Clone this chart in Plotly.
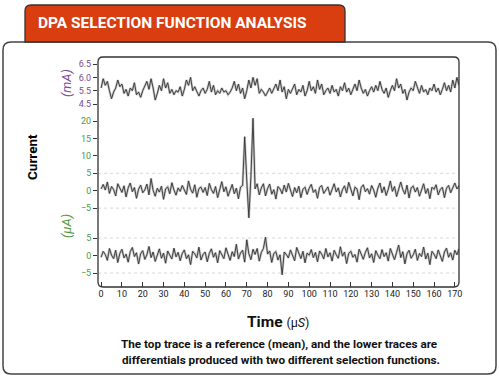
import plotly.graph_objects as go

# ---------------- data ----------------
time_us = list(range(0, 173))

ref_mean_mA = [
    5.6, 5.95, 5.7, 5.85, 5.5, 5.2, 5.45, 5.6, 5.9, 5.65,
    5.75, 5.4, 5.55, 5.3, 5.6, 5.5, 5.8, 5.35, 5.45, 5.25,
    5.5, 5.7, 5.85, 5.55, 5.95, 5.6, 5.15, 5.4, 5.7, 5.5,
    5.95, 5.6, 5.8, 5.4, 5.55, 5.35, 5.5, 5.45, 5.65, 5.3,
    5.55, 5.9, 5.7, 6.0, 5.5, 5.65, 5.45, 5.3, 5.5, 5.6,
    5.4, 5.55, 5.85, 5.45, 5.7, 5.35, 5.5, 5.4, 5.6, 5.45,
    5.5, 5.35, 5.45, 5.6, 5.85, 5.5, 5.75, 5.4, 5.6, 5.2,
    5.5, 5.9, 5.6, 6.0, 5.7, 5.95, 5.4, 5.55, 5.45, 5.3,
    5.45, 5.6, 5.4, 5.55, 5.75, 5.5, 5.9, 5.45, 5.65, 5.2,
    5.55, 5.4, 5.6, 5.75, 5.35, 5.55, 5.45, 5.7, 5.3, 5.5,
    5.85, 5.5, 5.65, 5.4, 5.9, 5.55, 5.75, 5.35, 5.5, 5.6,
    5.4, 5.7, 5.45, 5.55, 5.3, 5.65, 5.5, 5.8, 5.45, 5.6,
    5.35, 5.55, 5.75, 5.5, 5.9, 5.6, 5.4, 5.55, 5.3, 5.5,
    5.65, 5.45, 5.7, 5.5, 5.85, 5.55, 5.4, 5.6, 5.25, 5.5,
    5.7, 5.5, 5.95, 5.6, 5.75, 5.4, 5.55, 5.15, 5.45, 5.6,
    5.5, 5.85, 5.6, 5.4, 5.7, 5.45, 5.55, 5.35, 5.6, 5.5,
    5.75, 5.45, 5.6, 5.35, 5.55, 5.8, 5.5, 5.7, 5.45, 5.9,
    5.6, 6.0, 5.7,
]

diff_a_uA = [
    0.5, 1.8, 0.2, 2.5, -0.8, 1.2, 0.3, -1.5, 2.0, 0.6,
    -0.5, 1.4, -1.8, 0.8, 2.2, -0.3, 0.9, -2.2, 0.4, 1.6,
    -0.6, 0.2, 1.9, -1.2, 3.5, 0.1, -1.6, 0.7, -0.4, 1.3,
    -2.5, 0.5, 1.1, -0.9, 2.3, 0.2, -1.3, 0.8, -0.2, 1.5,
    0.3, -1.1, 2.8, 0.4, -0.7, 1.7, -1.9, 0.6, 1.0, -0.5,
    0.9, -1.4, 2.1, 0.3, -0.8, 1.2, -2.0, 0.5, 2.6, -0.3,
    1.1, -1.6, 0.4, 1.8, -0.9, 0.7, -2.3, 1.0, 1.5, 15.5,
    3.0, -7.8, 4.0, 20.8, 0.5, 2.0, -1.2, 0.8, 2.0, -1.5,
    0.6, 1.9, -1.0, 0.3, -2.4, 1.2, 0.5, -0.9, 1.6, -0.4,
    2.1, 0.2, -1.7, 0.9, -0.6, 1.3, -2.0, 0.4, 1.0, -1.1,
    0.7, 1.8, -0.5, 0.3, -2.2, 0.9, 1.5, -0.8, 0.2, 1.1,
    -1.3, 0.6, 2.0, -0.4, 0.8, -1.8, 0.3, 1.4, -0.7, 2.4,
    0.1, -1.5, 1.0, 0.5, -2.6, 0.9, 1.7, -0.3, 0.6, -1.0,
    1.5, 0.2, -1.9, 0.7, 2.2, -0.6, 1.1, -1.4, 0.4, 2.8,
    -0.2, 1.2, -1.7, 0.5, 2.5, 0.3, -1.0, 1.6, -2.1, 0.8,
    1.3, -0.4, 0.9, -1.6, 0.2, 2.0, -0.8, 0.6, -2.3, 1.0,
    0.4, 1.7, -1.2, 0.3, 1.0, -2.0, 0.7, 1.5, -0.6, 0.9,
    2.2, 0.5, 1.4,
]

diff_b_uA = [
    -0.5, 1.2, 0.3, -1.4, 2.0, 0.1, -0.9, 1.5, -2.0, 0.6,
    1.8, -0.7, 0.4, -1.9, 1.1, 2.3, -0.3, 0.8, -2.4, 0.5,
    1.4, -1.1, 0.2, 2.6, -0.6, 1.0, -1.7, 0.3, 1.9, -0.8,
    0.7, -2.2, 1.3, 0.1, -1.0, 2.1, -0.4, 0.9, -1.5, 0.6,
    1.6, -0.9, 0.2, -2.6, 1.2, 0.5, -0.7, 2.4, -1.3, 0.3,
    1.0, -1.8, 0.6, 1.9, -0.5, 0.8, -2.1, 1.4, 0.2, -0.9,
    2.2, 0.4, -1.4, 1.1, -0.3, 3.2, -1.0, 0.7, 1.5, -1.9,
    4.5, 0.5, -1.2, 1.8, 0.3, 2.0, -1.6, 0.9, 2.0, 5.2,
    0.4, 1.3, -2.0, 0.6, 1.1, -1.3, 0.2, -5.5, 1.0, 0.3,
    -0.7, 1.6, 0.2, -1.5, 2.3, 0.5, -0.9, 1.2, -2.1, 0.7,
    0.1, 1.7, -0.6, 0.9, -1.8, 1.3, 0.4, -1.0, 2.0, -0.4,
    0.8, -1.6, 1.5, 0.2, -0.8, 2.5, -0.2, 1.0, -2.3, 0.6,
    1.2, -0.5, 0.3, -1.9, 1.8, 0.4, -1.1, 0.9, 2.2, -0.7,
    0.5, -2.0, 1.4, 0.1, -0.9, 1.7, -0.3, 0.8, -1.6, 2.0,
    0.3, -1.2, 0.9, 3.0, -0.6, 1.1, -2.4, 0.5, 1.5, -0.8,
    0.2, 1.8, -1.4, 0.6, -0.3, 2.4, -1.0, 0.7, -2.6, 1.2,
    0.4, -0.9, 1.6, 0.1, -1.7, 1.0, 2.1, -0.5, 0.8, -1.3,
    1.5, 0.2, 1.9,
]

x_ticks = list(range(0, 171, 10))
top_tickvals = [6.5, 6.0, 5.5, 5.0]
top_ticktext = ["6.5", "6.0", "5.5", "4.5"]
mid_tickvals = [-5, 0, 5, 10, 15, 20]
bot_tickvals = [-5, 0, 5]

# ---------------- styling ----------------
W, H = 499, 379
L, R, T, B = 98, 459, 57, 287
PW, PH = R - L, B - T
FONT = "Roboto, sans-serif"
PURPLE = "#7d4a93"
GREEN = "#4f9a3a"
ORANGE = "#d83e10"
LINE = "#333333"


def px(x):
    return (x - L) / PW


def py(y):
    return (B - y) / PH


def rrect(x0, y0, x1, y1, r, top_only=False):
    a0, b0, a1, b1 = px(x0), py(y0), px(x1), py(y1)
    rx, ry = r / PW, r / PH
    if top_only:
        return (f"M{a0},{b1} L{a0},{b0 - ry} Q{a0},{b0} {a0 + rx},{b0} "
                f"L{a1 - rx},{b0} Q{a1},{b0} {a1},{b0 - ry} L{a1},{b1} Z")
    return (f"M{a0 + rx},{b0} L{a1 - rx},{b0} Q{a1},{b0} {a1},{b0 - ry} "
            f"L{a1},{b1 + ry} Q{a1},{b1} {a1 - rx},{b1} L{a0 + rx},{b1} "
            f"Q{a0},{b1} {a0},{b1 + ry} L{a0},{b0 - ry} Q{a0},{b0} {a0 + rx},{b0} Z")


fig = go.Figure()
for ys, ya in [(ref_mean_mA, "y"), (diff_a_uA, "y2"), (diff_b_uA, "y3")]:
    fig.add_trace(go.Scatter(x=time_us, y=ys, yaxis=ya, mode="lines",
                             line=dict(color="rgba(140,140,140,0.5)", width=2.4),
                             hoverinfo="skip", showlegend=False))
    fig.add_trace(go.Scatter(x=time_us, y=ys, yaxis=ya, mode="lines",
                             line=dict(color=LINE, width=0.9), showlegend=False))

yax_common = dict(showgrid=False, zeroline=False, showline=False, ticks="outside",
                  ticklen=4, tickcolor="#333", anchor="x")

fig.update_layout(
    width=W, height=H,
    margin=dict(l=L, r=W - R, t=T, b=H - B),
    paper_bgcolor="white", plot_bgcolor="white",
    xaxis=dict(range=[-1.5, 172], tickvals=x_ticks,
               ticks="inside", ticklen=5, tickcolor="#333",
               showgrid=False, zeroline=False, showline=False, anchor="free", position=0,
               tickfont=dict(size=9, family=FONT, color="#222")),
    yaxis=dict(domain=[py(107), py(60)], range=[4.89, 6.65], tickvals=top_tickvals,
               ticktext=top_ticktext,
               tickfont=dict(size=9, family=FONT, color=PURPLE), **yax_common),
    yaxis2=dict(domain=[py(222), py(112)], range=[-9.0, 22.6], tickvals=mid_tickvals,
                tickfont=dict(size=9, family=FONT, color=GREEN), **yax_common),
    yaxis3=dict(domain=[py(282), py(226)], range=[-7.57, 8.43], tickvals=bot_tickvals,
                tickfont=dict(size=9, family=FONT, color=GREEN), **yax_common),
)

shapes = []
shapes.append(dict(type="path", xref="paper", yref="paper", path=rrect(3, 42, 496, 374, 8),
                   line=dict(color="#444", width=1.5), fillcolor="rgba(0,0,0,0)", layer="below"))
shapes.append(dict(type="path", xref="paper", yref="paper", path=rrect(25, 5, 345, 42, 6, top_only=True),
                   line=dict(color="#333", width=1.3), fillcolor=ORANGE, layer="above"))
shapes.append(dict(type="path", xref="paper", yref="paper", path=rrect(L, T, R, B, 5),
                   line=dict(color="#333", width=1.3), fillcolor="rgba(0,0,0,0)", layer="above"))
for yref in ["y2", "y3"]:
    for v in [-5, 5]:
        shapes.append(dict(type="line", xref="paper", yref=yref, x0=0, x1=1, y0=v, y1=v,
                           line=dict(color="#d8d8d8", width=1, dash="dot"), layer="below"))
fig.update_layout(shapes=shapes)

ann = [
    dict(text="<b>DPA SELECTION FUNCTION ANALYSIS</b>", x=px(172), y=py(23), xanchor="center",
         yanchor="middle", font=dict(size=15.5, color="white", family=FONT)),
    dict(text="<b>Current</b>", x=px(32), y=py(157), textangle=-90, xanchor="center",
         yanchor="middle", font=dict(size=13.5, color="black", family=FONT)),
    dict(text="<i>(mA)</i>", x=px(66), y=py(83), textangle=-90, xanchor="center",
         yanchor="middle", font=dict(size=13, color=PURPLE, family=FONT)),
    dict(text="<i>(µA)</i>", x=px(66), y=py(226), textangle=-90, xanchor="center",
         yanchor="middle", font=dict(size=13, color=GREEN, family=FONT)),
    dict(text="<b>Time</b> <span style='font-size:12.5px'>(µ<i>S</i>)</span>", x=px(278), y=py(322),
         xanchor="center", yanchor="middle", font=dict(size=15.5, color="#111", family=FONT)),
    dict(text="<b>The top trace is a reference (mean), and the lower traces are</b>", x=px(279), y=py(344),
         xanchor="center", yanchor="middle", font=dict(size=11.7, color="#111", family=FONT)),
    dict(text="<b>differentials produced with two different selection functions.</b>", x=px(281), y=py(360),
         xanchor="center", yanchor="middle", font=dict(size=11.7, color="#111", family=FONT)),
]
for a in ann:
    a.update(xref="paper", yref="paper", showarrow=False)
fig.update_layout(annotations=ann)

fig.write_html("out.html", config={"displayModeBar": False},
               post_script="document.body.style.margin='0';")
